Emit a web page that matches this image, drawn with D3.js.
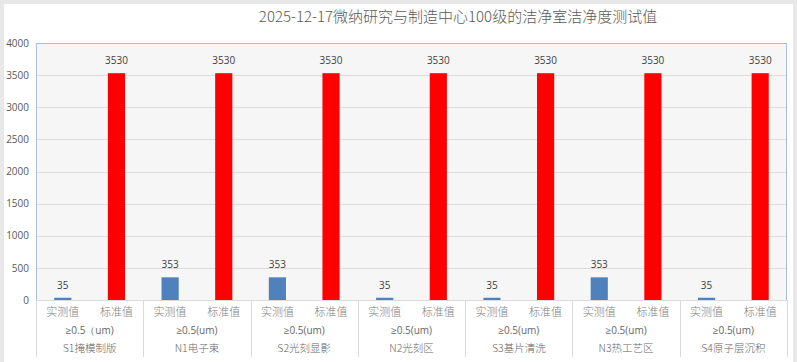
<!DOCTYPE html>
<html lang="zh">
<head>
<meta charset="UTF-8">
<title>洁净度测试值</title>
<script src="https://d3js.org/d3.v7.min.js"></script>
<style>
  body { margin: 0; background: #e8e8e8; }
  text { font-family: "Noto Sans CJK SC", "Noto Sans", sans-serif; }
</style>
</head>
<body>
<script>
    // data
    const areas = ["S1掩模制版", "N1电子束", "S2光刻显影", "N2光刻区", "S3基片清洗", "N3热工艺区", "S4原子层沉积"];
    const sizes = ["≥0.5（um)", "≥0.5(um)", "≥0.5(um)", "≥0.5(um)", "≥0.5(um)", "≥0.5(um)", "≥0.5(um)"];
    const kinds = ["实测值", "标准值"];
    const measured = [35, 353, 353, 35, 35, 353, 35];
    const standard = [3530, 3530, 3530, 3530, 3530, 3530, 3530];
    const yTicks = [0, 500, 1000, 1500, 2000, 2500, 3000, 3500, 4000];
    const title = "2025-12-17微纳研究与制造中心100级的洁净室洁净度测试值";

    const WIDTH = 797, HEIGHT = 362;
    const plotL = 36, plotR = 787, plotT = 43, plotB = 300;
    const colors = {"实测值": "#4f81bd", "标准值": "#ff0000"};

    let svg = d3.select("body").append("svg").attr("width", WIDTH).attr("height", HEIGHT)
        .style("display", "block");
    // chart area
    svg.append("rect").attr("x", 4).attr("y", 4).attr("width", WIDTH - 8).attr("height", HEIGHT - 4)
        .style("fill", "white");

    let x0 = d3.scaleBand().domain(areas).range([plotL, plotR]);
    let x1 = d3.scaleBand().domain(kinds).range([0, x0.bandwidth()]);
    let y = d3.scaleLinear().domain([0, 4000]).range([plotB, plotT]);

    // plot background
    svg.append("rect").attr("x", plotL).attr("y", plotT).attr("width", plotR - plotL).attr("height", plotB - plotT)
        .style("fill", "#f6f6f6");

    // grid lines
    svg.append("g").selectAll("line").data(yTicks).join("line")
        .attr("x1", plotL).attr("x2", plotR)
        .attr("y1", d => Math.round(y(d)) + 0.5).attr("y2", d => Math.round(y(d)) + 0.5)
        .style("stroke", "#dcdcdc");

    // plot border (left, top, right)
    svg.append("path")
        .attr("d", `M${plotL + 0.5},${plotB}V${plotT + 0.5}H${plotR - 0.5}V${plotB}`)
        .style("fill", "none").style("stroke", "#a7bfdc");

    // y axis labels
    let yAxis = d3.axisLeft(y).tickValues(yTicks).tickFormat(d3.format("d")).tickSize(0).tickPadding(7);
    let ya = svg.append("g").attr("transform", `translate(${plotL},0)`).call(yAxis);
    ya.select(".domain").remove();
    ya.selectAll("text").style("font-size", "10px").style("fill", "#595959")
        .style("font-family", "'Open Sans', 'Noto Sans', sans-serif");

    // bars
    let rows = [];
    areas.forEach((a, i) => {
        rows.push({area: a, kind: "实测值", value: measured[i]});
        rows.push({area: a, kind: "标准值", value: standard[i]});
    });
    const barW = x1.bandwidth() * 0.32;
    let bars = svg.append("g");
    bars.selectAll("rect").data(rows).join("rect")
        .attr("x", d => x0(d.area) + x1(d.kind) + (x1.bandwidth() - barW) / 2)
        .attr("y", d => y(d.value))
        .attr("width", barW)
        .attr("height", d => y(0) - y(d.value))
        .style("fill", d => colors[d.kind]);
    bars.selectAll("text").data(rows).join("text")
        .attr("x", d => x0(d.area) + x1(d.kind) + x1.bandwidth() / 2)
        .attr("y", d => y(d.value) - 9)
        .attr("text-anchor", "middle")
        .style("font-size", "10px").style("fill", "#404040")
        .style("font-family", "'Open Sans', 'Noto Sans', sans-serif")
        .text(d => d.value);

    // multi-level category axis
    let cat = svg.append("g");
    let seps = [plotL].concat(areas.map(a => x0(a) + x0.bandwidth()));
    cat.selectAll("line").data(seps).join("line")
        .attr("x1", d => Math.round(d) + 0.5).attr("x2", d => Math.round(d) + 0.5)
        .attr("y1", plotB).attr("y2", 357)
        .style("stroke", "#d9d9d9");
    cat.selectAll("text.kind").data(rows).join("text").attr("class", "kind")
        .attr("x", d => x0(d.area) + x1(d.kind) + x1.bandwidth() / 2)
        .attr("y", 316)
        .attr("text-anchor", "middle")
        .style("font-size", "11px").style("fill", "#808080").style("font-weight", 300)
        .text(d => d.kind);
    cat.selectAll("text.size").data(areas).join("text").attr("class", "size")
        .attr("x", d => x0(d) + x0.bandwidth() / 2)
        .attr("y", 334)
        .attr("text-anchor", "middle")
        .style("font-size", "10px").style("fill", "#666")
        .style("font-family", "'Open Sans', 'Noto Sans', sans-serif")
        .text((d, i) => sizes[i]);
    cat.selectAll("text.area").data(areas).join("text").attr("class", "area")
        .attr("x", d => x0(d) + x0.bandwidth() / 2)
        .attr("y", 352)
        .attr("text-anchor", "middle")
        .style("font-size", "10.5px").style("fill", "#666").style("font-weight", 300)
        .text(d => d);

    // title
    svg.append("text").attr("x", 458).attr("y", 22)
        .attr("text-anchor", "middle")
        .style("font-size", "15px").style("fill", "#595959").style("font-weight", 300)
        .text(title);
</script>
</body>
</html>
